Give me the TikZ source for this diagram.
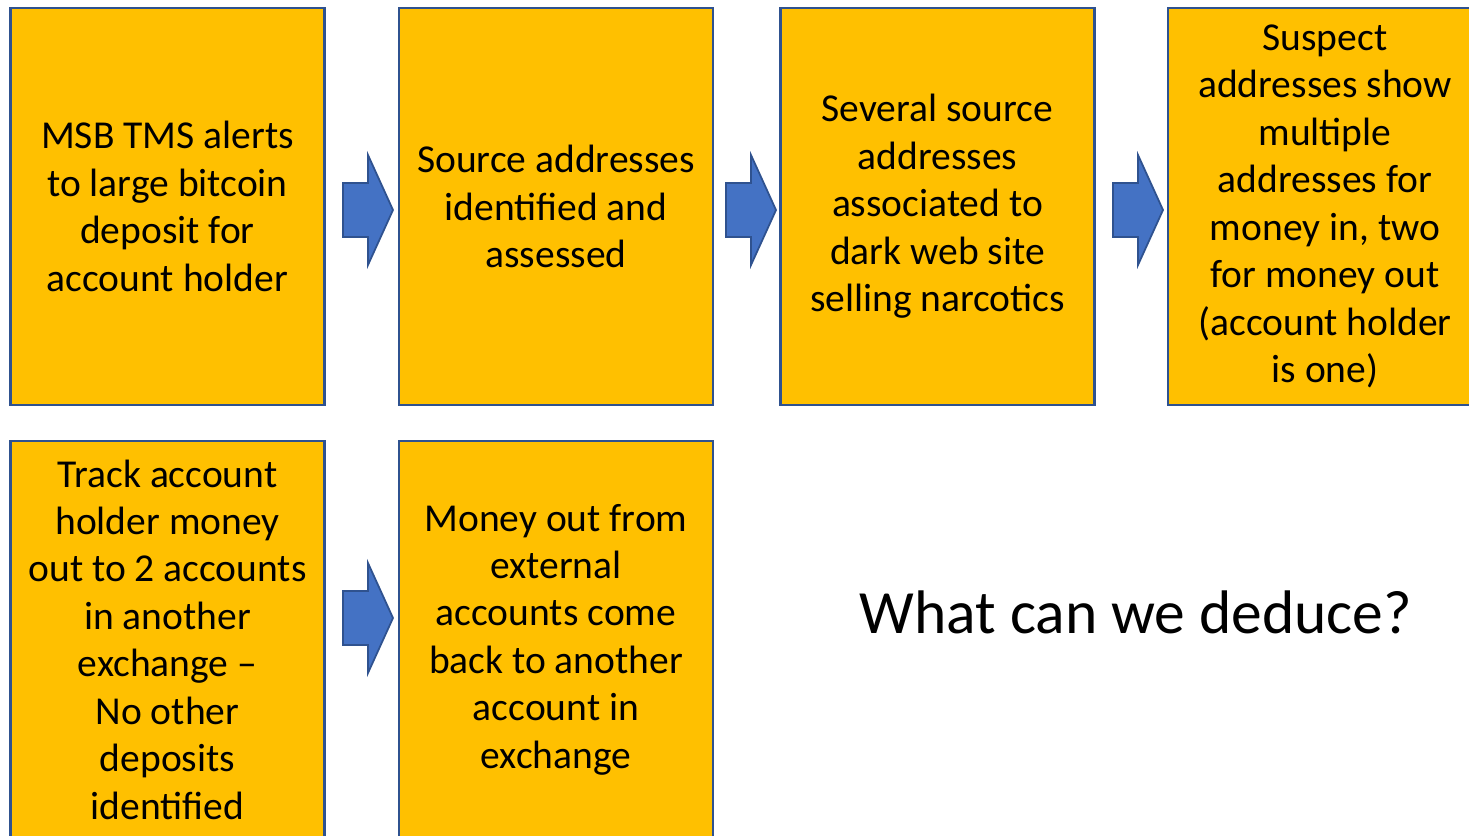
\documentclass[tikz,border=0pt]{standalone}
\usepackage{fontspec}
\setmainfont{Carlito}
\usepackage{xcolor}
\usepackage{tikz}

\definecolor{cardfill}{HTML}{FFC000}
\definecolor{cardline}{HTML}{2F528F}
\definecolor{arrowfill}{HTML}{4472C4}

\tikzset{
  card/.style={draw=cardline, fill=cardfill, line width=1.2pt,
    minimum width=6.28cm, minimum height=7.94cm, inner sep=0pt,
    align=center, font=\fontsize{22.5}{27}\selectfont},
  blockarrow/.style={draw=cardline, fill=arrowfill, line width=1pt, line join=miter}
}

\begin{document}
\begin{tikzpicture}[x=0.02cm, y=-0.02cm]
\useasboundingbox (0,0) rectangle (1469,835);
\clip (0,0) rectangle (1469,835);

% first row
\node[card] (alert) at (167.5,206.5) {MSB TMS alerts\\to large bitcoin\\deposit for\\account holder};
\node[card] (source) at (556,206.5) {Source addresses\\identified and\\assessed};
\node[card] (darkweb) at (937.5,206.5) {Several source\\addresses\\associated to\\dark web site\\selling narcotics};
\node[card] (suspect) at (1325,206.5) {Suspect\\addresses show\\multiple\\addresses for\\money in, two\\for money out\\(account holder\\is one)};

% second row
\node[card] (track) at (167.5,639.5) {Track account\\holder money\\out to 2 accounts\\in another\\exchange --\\No other\\deposits\\identified};
\node[card] (moneyout) at (556,639.5) {Money out from\\external\\accounts come\\back to another\\account in\\exchange};

\node[font=\fontsize{35}{42}\selectfont] (question) at (1136,612) {What can we deduce?};

% arrows
\draw[blockarrow, shift={(343,210)}] (0,-27)--(25,-27)--(25,-55)--(50,0)--(25,55)--(25,27)--(0,27)--cycle;
\draw[blockarrow, shift={(726,210)}] (0,-27)--(25,-27)--(25,-55)--(50,0)--(25,55)--(25,27)--(0,27)--cycle;
\draw[blockarrow, shift={(1113,210)}] (0,-27)--(25,-27)--(25,-55)--(50,0)--(25,55)--(25,27)--(0,27)--cycle;
\draw[blockarrow, shift={(343,618)}] (0,-27)--(25,-27)--(25,-55)--(50,0)--(25,55)--(25,27)--(0,27)--cycle;
\end{tikzpicture}
\end{document}
